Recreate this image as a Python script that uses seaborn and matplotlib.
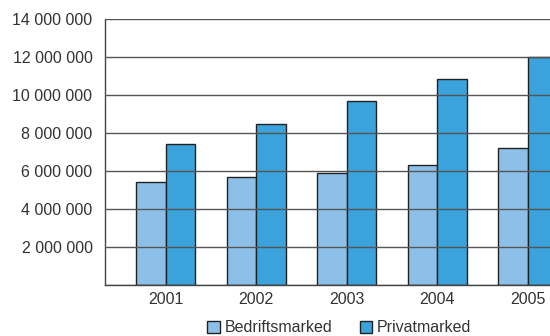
import matplotlib
matplotlib.use("Agg")
import matplotlib.pyplot as plt
import seaborn as sns
import pandas as pd
from matplotlib.patches import Patch

years = ["2001", "2002", "2003", "2004", "2005"]
bedrift = [5440000, 5680000, 5890000, 6300000, 7190000]
privat = [7440000, 8460000, 9680000, 10830000, 11980000]
series = ["Bedriftsmarked", "Privatmarked"]
yticks = [0, 2000000, 4000000, 6000000, 8000000, 10000000, 12000000, 14000000]

colors = ["#8cc0e8", "#3ba3dc"]

df = pd.DataFrame({
    "year": years * 2,
    "value": bedrift + privat,
    "series": [series[0]] * len(years) + [series[1]] * len(years),
})

sns.set_theme(style="white")
plt.rcParams["font.family"] = ["Liberation Sans", "DejaVu Sans"]

fig = plt.figure(figsize=(5.5, 3.36), dpi=100)
ax = fig.add_axes([105 / 550, 1 - 285 / 336, 1 - 105 / 550, (285 - 19) / 336])

sns.barplot(data=df, x="year", y="value", hue="series", palette=colors,
            width=0.654, edgecolor="#222222", linewidth=1.0, ax=ax,
            legend=False, saturation=1)

ax.set_xlim(-0.67, 4.246)
ax.set_ylim(0, 14000000)
ax.set_yticks(yticks)
ax.set_yticklabels(["" if v == 0 else f"{v:,}".replace(",", " ") for v in yticks])
ax.set_xlabel("")
ax.set_ylabel("")

ax.set_axisbelow(False)
ax.yaxis.grid(True, color="#555555", linewidth=1.0)
ax.xaxis.grid(False)

for s in ["top", "right"]:
    ax.spines[s].set_visible(False)
for s in ["left", "bottom"]:
    ax.spines[s].set_color("#444444")
    ax.spines[s].set_linewidth(1.0)

ax.tick_params(axis="both", length=0, labelsize=11.5, colors="#333333")
ax.tick_params(axis="y", pad=9)
ax.tick_params(axis="x", pad=5)

handles = [Patch(facecolor=c, edgecolor="#222222", linewidth=1.0) for c in colors]
fig.legend(handles, series, loc="center", bbox_to_anchor=(0.617, 1 - 328 / 336),
           ncol=2, frameon=False, fontsize=11.5, handlelength=0.8, handleheight=0.8,
           handletextpad=0.3, columnspacing=1.7, labelcolor="#333333")

fig.savefig("out.png", dpi=100)
